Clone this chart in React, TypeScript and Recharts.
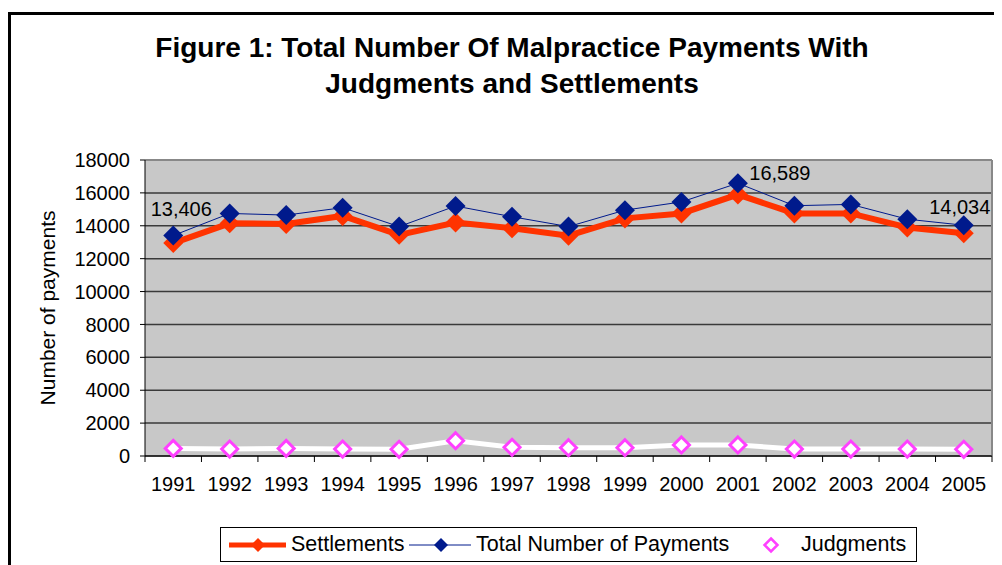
import React from 'react';
import {
  LineChart,
  Line,
  XAxis,
  YAxis,
  CartesianGrid,
  ReferenceLine,
  LabelList,
} from 'recharts';

const years = [
  '1991', '1992', '1993', '1994', '1995', '1996', '1997', '1998',
  '1999', '2000', '2001', '2002', '2003', '2004', '2005',
];
const settlements = [
  12950, 14150, 14110, 14600, 13450, 14200, 13850, 13400,
  14450, 14750, 15900, 14750, 14750, 13900, 13550,
];
const totalPayments = [
  13406, 14750, 14650, 15100, 13950, 15200, 14550, 13950,
  14950, 15450, 16589, 15220, 15300, 14400, 14034,
];
const judgments = [
  460, 425, 460, 425, 410, 930, 530, 505,
  505, 670, 670, 425, 425, 425, 410,
];
const yTicks = [0, 2000, 4000, 6000, 8000, 10000, 12000, 14000, 16000, 18000];
const labelledPoints = [0, 10, 14];

const data = years.map((year, i) => ({
  x: i + 0.5,
  year,
  settlements: settlements[i],
  total: totalPayments[i],
  judgments: judgments[i],
}));

const FONT = '"Liberation Sans", Arial, sans-serif';
const W = 1002;
const H = 565;
const PLOT_LEFT = 145;
const PLOT_RIGHT = 992;
const STEP = (PLOT_RIGHT - PLOT_LEFT) / years.length;

const RED = '#FF3300';
const NAVY = '#001A8C';
const PINK = '#FF40FF';

function diamond(cx: number, cy: number, r: number) {
  return `${cx},${cy - r} ${cx + r},${cy} ${cx},${cy + r} ${cx - r},${cy}`;
}

const Diamond = (fill: string, stroke: string, r: number, sw = 0) => (props: any) => {
  const { cx, cy, index } = props;
  if (cx == null || cy == null) return null;
  return (
    <polygon
      key={index}
      points={diamond(cx, cy, r)}
      fill={fill}
      stroke={stroke}
      strokeWidth={sw}
    />
  );
};

const YearTick = (props: any) => {
  const { x, y, payload } = props;
  const i = payload.value;
  if (i >= years.length) return null;
  return (
    <text
      x={x + STEP / 2}
      y={y}
      dy="0.71em"
      textAnchor="middle"
      fontSize={20}
      fontFamily={FONT}
      fill="#000"
    >
      {years[i]}
    </text>
  );
};

// only a few totals carry a value label, each nudged like the original
const labelOffsets: Record<number, [number, number]> = {
  0: [8, -27],
  10: [42, -10],
  14: [-4, -18],
};

const TotalLabel = (props: any) => {
  const { x, y, index, value } = props;
  if (!labelledPoints.includes(index)) return null;
  const [dx, dy] = labelOffsets[index];
  return (
    <text
      x={x + dx}
      y={y + dy}
      textAnchor="middle"
      dominantBaseline="central"
      fontSize={20}
      fontFamily={FONT}
      fill="#000"
    >
      {Number(value).toLocaleString('en-US')}
    </text>
  );
};

function LegendBox() {
  const text: React.CSSProperties = {
    position: 'absolute',
    top: 3,
    fontSize: 21.5,
    lineHeight: '26px',
    fontFamily: FONT,
    color: '#000',
    whiteSpace: 'nowrap',
  };
  return (
    <div
      style={{
        position: 'absolute',
        left: 220,
        top: 527,
        width: 695,
        height: 33,
        border: '1px solid #000',
        background: '#fff',
      }}
    >
      <svg width={695} height={33} style={{ position: 'absolute', left: 0, top: 0 }}>
        <line x1={8} x2={65} y1={17} y2={17} stroke={RED} strokeWidth={5} />
        <polygon points={diamond(37, 17, 7)} fill={RED} />
        <line x1={188} x2={250} y1={17} y2={17} stroke={NAVY} strokeWidth={1} />
        <polygon points={diamond(220, 17, 7)} fill={NAVY} />
        <polygon points={diamond(550, 17, 6.5)} fill="#fff" stroke={PINK} strokeWidth={2.5} />
      </svg>
      <span style={{ ...text, left: 70 }}>Settlements</span>
      <span style={{ ...text, left: 255 }}>Total Number of Payments</span>
      <span style={{ ...text, left: 580 }}>Judgments</span>
    </div>
  );
}

export default function App() {
  return (
    <div
      style={{
        position: 'relative',
        width: W,
        height: H,
        margin: '-8px 0 0 -8px',
        overflow: 'hidden',
        background: '#fff',
        fontFamily: FONT,
      }}
    >
      <div
        style={{
          position: 'absolute',
          left: 8,
          top: 12,
          width: 1100,
          height: 700,
          border: '3px solid #000',
        }}
      />
      <div
        style={{
          position: 'absolute',
          left: 11,
          top: 30,
          width: W,
          textAlign: 'center',
          fontWeight: 'bold',
          fontSize: 28,
          lineHeight: '36px',
          color: '#000',
        }}
      >
        Figure 1: Total Number Of Malpractice Payments With
        <br />
        Judgments and Settlements
      </div>

      <div style={{ position: 'absolute', left: 0, top: 0 }}>
        <LineChart
          width={W}
          height={H}
          data={data}
          margin={{ top: 160, right: W - PLOT_RIGHT, bottom: 59, left: PLOT_LEFT - 100 }}
        >
          <CartesianGrid
            vertical={false}
            stroke="#3a3a3a"
            strokeWidth={1.5}
            fill="#C8C8C8"
            fillOpacity={1}
          />
          <XAxis
            dataKey="x"
            type="number"
            domain={[0, years.length]}
            ticks={years.map((_, i) => i).concat(years.length)}
            height={50}
            tick={<YearTick />}
            tickSize={6}
            tickMargin={15}
            stroke="#000"
            interval={0}
          />
          <YAxis
            domain={[0, 18000]}
            ticks={yTicks}
            width={100}
            tickSize={5}
            tickMargin={10}
            stroke="#000"
            tick={{ fontSize: 20, fill: '#000', fontFamily: FONT }}
            interval={0}
            label={{
              value: 'Number of payments',
              angle: -90,
              position: 'insideLeft',
              dx: -2,
              style: { textAnchor: 'middle', fontSize: 21, fill: '#000', fontFamily: FONT },
            }}
          />
          <ReferenceLine y={18000} stroke="#888" strokeWidth={2} />
          <ReferenceLine x={years.length} stroke="#888" strokeWidth={2} />
          <Line
            dataKey="settlements"
            stroke={RED}
            strokeWidth={6}
            dot={Diamond(RED, RED, 10)}
            activeDot={false}
            isAnimationActive={false}
          />
          <Line
            dataKey="total"
            stroke={NAVY}
            strokeWidth={1}
            dot={Diamond(NAVY, NAVY, 10)}
            activeDot={false}
            isAnimationActive={false}
          >
            <LabelList dataKey="total" content={<TotalLabel />} />
          </Line>
          <Line
            dataKey="judgments"
            stroke="#fff"
            strokeWidth={5}
            dot={Diamond('#fff', PINK, 8, 3)}
            activeDot={false}
            isAnimationActive={false}
          />
        </LineChart>
      </div>
      <LegendBox />
    </div>
  );
}
